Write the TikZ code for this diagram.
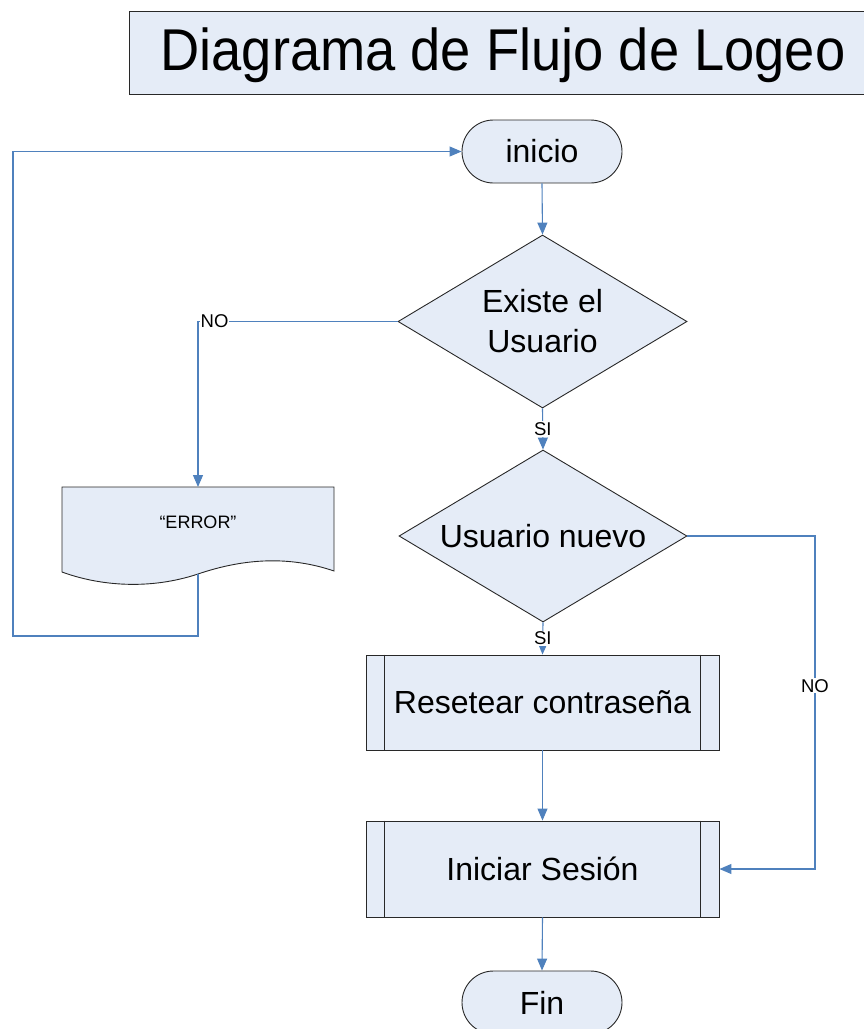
\documentclass[tikz,border=0pt]{standalone}
\usepackage{fontspec}
\setmainfont{Liberation Sans}
\usetikzlibrary{arrows.meta,shapes.geometric,shapes.misc}
\definecolor{flowfill}{RGB}{229,236,247}
\definecolor{flowline}{RGB}{79,129,189}
\definecolor{edgeline}{RGB}{40,40,40}

\begin{document}
\begin{tikzpicture}[x=1pt,y=-1pt,
  shapeline/.style={draw=edgeline, line width=0.9pt, fill=flowfill},
  bodyfont/.style={font=\fontsize{32}{40}\selectfont},
  terminal/.style={shapeline, rounded rectangle, minimum width=160pt, minimum height=63pt,
    inner sep=0pt, bodyfont},
  decision/.style={shapeline, diamond, minimum width=289pt, minimum height=173pt,
    inner sep=0pt},
  dtext/.style={align=center, inner sep=0pt, bodyfont},
  process/.style={shapeline, rectangle, minimum width=353pt, minimum height=95pt,
    inner sep=0pt, bodyfont},
  sidebar/.style={draw=edgeline, line width=0.9pt},
  conn/.style={draw=flowline, line width=1.1pt, -{Triangle[length=12pt,width=10pt]}},
  lbl/.style={fill=white, inner sep=1pt, text=black, font=\fontsize{18.5}{18.5}\selectfont}
]
\useasboundingbox (0,0) rectangle (864,1029);

% title banner (runs off the right edge)
\path[shapeline] (129,11) rectangle (872,94);
\node[font=\fontsize{59}{64}\selectfont] (title) at (503,55)
  {\scalebox{0.92}[1]{Diagrama de Flujo de Logeo}};

% start / end terminals
\node[terminal] (start) at (542,151.5) {inicio};
\node[terminal] (fin) at (542,1002.5) {Fin};

% decisions (fixed-size diamonds, text set on top)
\node[decision] (d1) at (542.5,321.5) {};
\node[dtext] (d1t) at (d1) {Existe el\\Usuario};
\node[decision, minimum height=172pt, minimum width=288pt] (d2) at (543,536) {};
\node[dtext] (d2t) at (d2) {Usuario nuevo};

% predefined processes
\node[process] (res) at (542.5,702.5) {Resetear contraseña};
\node[process, minimum height=96pt] (ini) at (542.5,869) {Iniciar Sesión};
\foreach \p in {res,ini}{
  \draw[sidebar] ([xshift=19pt]\p.north west) -- ([xshift=19pt]\p.south west);
  \draw[sidebar] ([xshift=-19pt]\p.north east) -- ([xshift=-19pt]\p.south east);
}

% error document
\path[shapeline] (62,487) -- (334,487) -- (334,571)
  .. controls (290,556) and (245,558) .. (198,574)
  .. controls (150,590) and (100,586) .. (62,572) -- cycle;
\node[font=\fontsize{18}{18}\selectfont] (err) at (198,522) {“ERROR”};
\coordinate (errtop) at (198,487);
\coordinate (errbot) at (198,574);

% bends of the routed connectors
\coordinate (k1) at (815,536);
\coordinate (k2) at (815,869);
\coordinate (k3) at (198,321.5);
\coordinate (k4) at (198,636);
\coordinate (k5) at (13,636);
\coordinate (k6) at (13,151.5);

% connectors
\draw[conn] (start.south) -- (d1.north);
\draw[conn] (d1.south) -- node[lbl] {SI} (d2.north);
\draw[conn] (d2.south) -- node[lbl] {SI} (res.north);
\draw[conn] (res.south) -- (ini.north);
\draw[conn] (ini.south) -- (fin.north);
\draw[conn] (d2.east) -- (k1) -- node[lbl, pos=0.45] {NO} (k2) -- (ini.east);
\draw[conn] (d1.west) -- (k3) -- (errtop);
\node[lbl, anchor=west] (nolbl) at ([xshift=1.5pt]k3) {NO};
\draw[conn] (errbot) -- (k4) -- (k5) -- (k6) -- (start.west);
\end{tikzpicture}
\end{document}
